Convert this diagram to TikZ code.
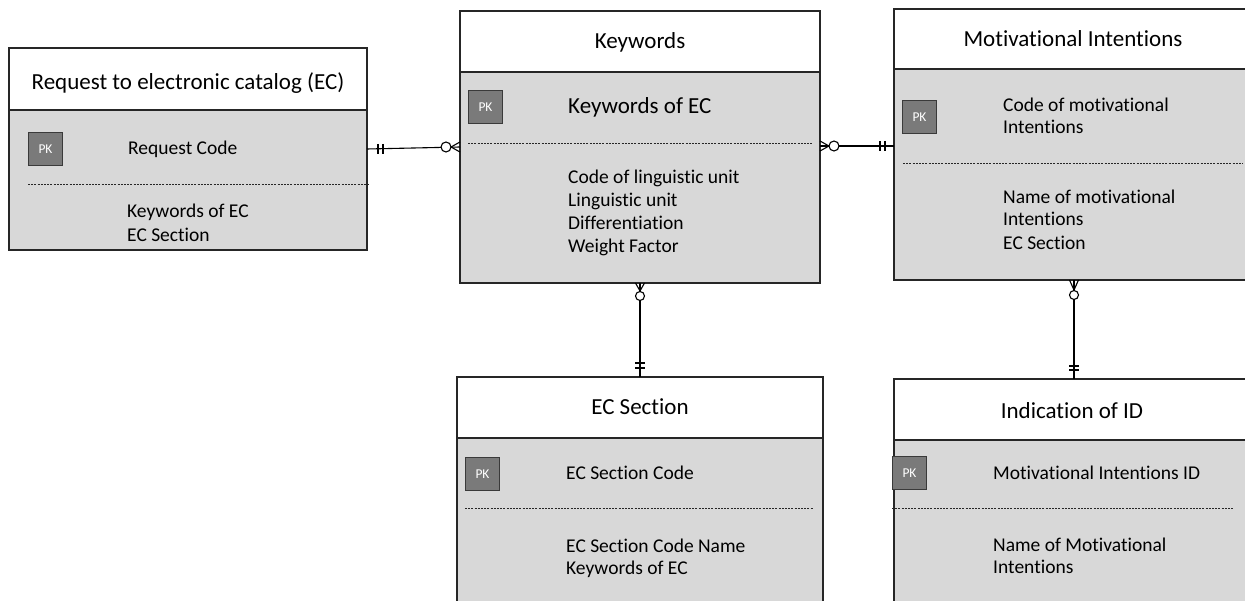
\documentclass[tikz,border=0pt]{standalone}
\usepackage{fontspec}
\setmainfont{Carlito}[Ligatures={NoCommon}]
\usetikzlibrary{calc}
\definecolor{bodygray}{HTML}{D8D8D8}
\definecolor{pkfill}{HTML}{7A7A7A}
\definecolor{pkdraw}{HTML}{3A3A3A}
\definecolor{edgecol}{HTML}{262626}
\begin{document}
\begin{tikzpicture}[x=1pt,y=-1pt,
 hdr/.style={draw=edgecol, line width=1.3pt, fill=white, inner sep=0pt, outer sep=0pt, anchor=north west},
 body/.style={draw=edgecol, line width=1.3pt, fill=bodygray, inner sep=0pt, outer sep=0pt, anchor=north west},
 pk/.style={draw=pkdraw, line width=1pt, fill=pkfill, text=white, font=\fontsize{13.5}{15}\selectfont, minimum width=34pt, minimum height=33pt, inner sep=0pt, anchor=north west},
 ttl/.style={font=\fontsize{23}{27}\selectfont, anchor=base, inner sep=0pt},
 att/.style={font=\fontsize{19.5}{23}\selectfont, anchor=base west, inner sep=0pt},
 attbig/.style={font=\fontsize{23}{27}\selectfont, anchor=base west, inner sep=0pt},
 sepline/.style={draw=edgecol, line width=0.9pt, dash pattern=on 2pt off 1.2pt},
 rel/.style={draw=black, line width=1.1pt},
]
\useasboundingbox (0,0) rectangle (1245,601);
\clip (0,0) rectangle (1245,601);

% ---------- Box 1: Request ----------
\node[hdr, minimum width=358pt, minimum height=62pt] (h1) at (9,48) {};
\node[body, minimum width=358pt, minimum height=140pt] (b1) at (9,110) {};
\node[ttl] (t1) at (188,90) {Request to electronic catalog (EC)};
\node[pk] (pk1) at (28,132) {PK};
\node[att] (r1) at (128,155) {Request Code};
\draw[sepline] (28,184) -- (370,184);
\node[att] (r2) at (127,218) {Keywords of EC};
\node[att] (r3) at (127,242) {EC Section};

% ---------- Box 2: Keywords ----------
\node[hdr, minimum width=360pt, minimum height=61pt] (h2) at (460,11) {};
\node[body, minimum width=360pt, minimum height=211pt] (b2) at (460,72) {};
\node[ttl] (t2) at (640,49) {Keywords};
\node[pk] (pk2) at (468,90) {PK};
\node[attbig] (k0) at (568,114) {Keywords of EC};
\draw[sepline] (468,143) -- (812,143);
\node[att] (k1) at (568,184) {Code of linguistic unit};
\node[att] (k2) at (568,207) {Linguistic unit};
\node[att] (k3) at (568,230) {Differentiation};
\node[att] (k4) at (568,253) {Weight Factor};

% ---------- Box 3: Motivational Intentions ----------
\node[hdr, minimum width=360pt, minimum height=60pt] (h3) at (894,9) {};
\node[body, minimum width=360pt, minimum height=211pt] (b3) at (894,69) {};
\node[ttl] (t3) at (1073,47) {Motivational Intentions};
\node[pk] (pk3) at (902,100) {PK};
\node[att] (m1) at (1003,112) {Code of motivational};
\node[att] (m2) at (1003,134) {Intentions};
\draw[sepline] (903,163) -- (1243,163);
\node[att] (m3) at (1003,204) {Name of motivational};
\node[att] (m4) at (1003,226) {Intentions};
\node[att] (m5) at (1003,250) {EC Section};

% ---------- Box 4: EC Section ----------
\node[hdr, minimum width=366pt, minimum height=61pt] (h4) at (457,377) {};
\node[body, minimum width=366pt, minimum height=200pt] (b4) at (457,438) {};
\node[ttl] (t4) at (640,414) {EC Section};
\node[pk] (pk4) at (465,457) {PK};
\node[att] (s1t) at (566,479) {EC Section Code};
\draw[sepline] (465,508) -- (813,508);
\node[att] (s2t) at (566,552) {EC Section Code Name};
\node[att] (s3t) at (566,574) {Keywords of EC};

% ---------- Box 5: Indication of ID ----------
\node[hdr, minimum width=360pt, minimum height=61pt] (h5) at (894,379) {};
\node[body, minimum width=360pt, minimum height=200pt] (b5) at (894,440) {};
\node[ttl] (t5) at (1072,418) {Indication of ID};
\node[pk] (pk5) at (892,456) {PK};
\node[att] (i1) at (993,479) {Motivational Intentions ID};
\draw[sepline] (892,508) -- (1233,508);
\node[att] (i2) at (993,551) {Name of Motivational};
\node[att] (i3) at (993,573) {Intentions};

% ---------- Relationship 1: Request -- Keywords ----------
\coordinate (a1) at (b1.east |- 0,149);
\coordinate (z1) at (b2.west |- 0,147);
\draw[rel] (a1) -- (z1);
\draw[rel] ($(a1)+(11,-5)$) -- ($(a1)+(11,5)$) ($(a1)+(16,-5)$) -- ($(a1)+(16,5)$);
\draw[rel, fill=white] ($(z1)+(-14,0)$) circle (5);
\draw[rel] ($(z1)+(-9,0)$) -- ($(z1)+(0,-5)$) ($(z1)+(-9,0)$) -- ($(z1)+(0,5)$);

% ---------- Relationship 2: Keywords -- Motivational ----------
\coordinate (a2) at (b2.east |- 0,146);
\coordinate (z2) at (b3.west |- 0,146);
\draw[rel] (a2) -- (z2);
\draw[rel, fill=white] ($(a2)+(14,0)$) circle (5);
\draw[rel] ($(a2)+(9,0)$) -- ($(a2)+(0,-5)$) ($(a2)+(9,0)$) -- ($(a2)+(0,5)$);
\draw[rel] ($(z2)+(-14,-5)$) -- ($(z2)+(-14,5)$) ($(z2)+(-9,-5)$) -- ($(z2)+(-9,5)$);

% ---------- Relationship 3: Keywords -- EC Section ----------
\coordinate (a3) at (b2.south);
\coordinate (z3) at (h4.north);
\draw[rel] (a3) -- (z3);
\draw[rel, fill=white] ($(a3)+(0,13)$) circle (4.5);
\draw[rel] ($(a3)+(0,8)$) -- ($(a3)+(-4.5,0)$) ($(a3)+(0,8)$) -- ($(a3)+(4.5,0)$);
\draw[rel] ($(z3)+(-5,-14)$) -- ($(z3)+(5,-14)$) ($(z3)+(-5,-9)$) -- ($(z3)+(5,-9)$);

% ---------- Relationship 4: Motivational -- Indication ----------
\coordinate (a4) at (b3.south);
\coordinate (z4) at (h5.north);
\draw[rel] (a4) -- (z4);
\draw[rel, fill=white] ($(a4)+(0,15)$) circle (4.5);
\draw[rel] ($(a4)+(0,10)$) -- ($(a4)+(-4.5,0)$) ($(a4)+(0,10)$) -- ($(a4)+(4.5,0)$);
\draw[rel] ($(z4)+(-5,-13)$) -- ($(z4)+(5,-13)$) ($(z4)+(-5,-9)$) -- ($(z4)+(5,-9)$);
\end{tikzpicture}
\end{document}
